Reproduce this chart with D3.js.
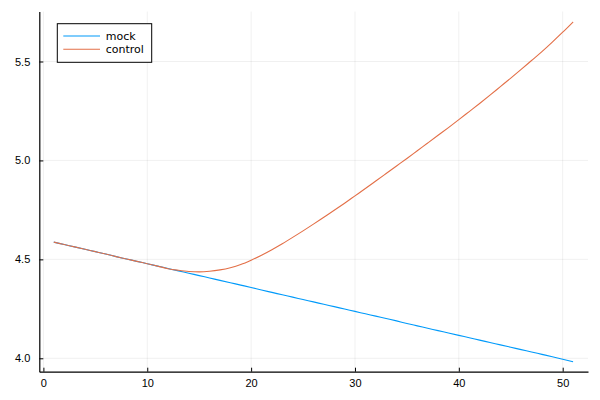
<!DOCTYPE html>
<html>
<head>
<meta charset="utf-8">
<script src="https://cdn.jsdelivr.net/npm/d3@7"></script>
<style>
  html, body { margin: 0; padding: 0; background: #fff; }
  svg { display: block; font-family: "DejaVu Sans", sans-serif; }
</style>
</head>
<body>
<svg id="chart"></svg>
<script>
var width = 600;
var height = 400;

// x positions 1..51
var steps = d3.range(1, 52);

var mockValues = [
  4.587, 4.575, 4.563, 4.551, 4.539, 4.527, 4.514, 4.502, 4.490, 4.478,
  4.466, 4.454, 4.442, 4.430, 4.418, 4.406, 4.394, 4.382, 4.370, 4.358,
  4.345, 4.333, 4.321, 4.309, 4.297, 4.285, 4.273, 4.261, 4.249, 4.237,
  4.225, 4.213, 4.201, 4.189, 4.176, 4.164, 4.152, 4.140, 4.128, 4.116,
  4.104, 4.092, 4.080, 4.068, 4.056, 4.044, 4.032, 4.020, 4.008, 3.995,
  3.983
];

var controlValues = [
  4.587, 4.575, 4.563, 4.551, 4.539, 4.527, 4.514, 4.502, 4.490, 4.478,
  4.466, 4.453, 4.445, 4.439, 4.437, 4.440, 4.447, 4.458, 4.474, 4.496,
  4.521, 4.549, 4.579, 4.611, 4.644, 4.678, 4.713, 4.748, 4.784, 4.821,
  4.858, 4.896, 4.934, 4.972, 5.010, 5.049, 5.088, 5.127, 5.166, 5.206,
  5.247, 5.288, 5.330, 5.373, 5.416, 5.460, 5.505, 5.550, 5.598, 5.648,
  5.700
];

var seriesNames = ["mock", "control"];
var seriesColors = ["#009AFA", "#E36F47"];
var xTicks = [0, 10, 20, 30, 40, 50];
var yTicks = [4.0, 4.5, 5.0, 5.5];

// plot frame
var frame = {left: 39.3, right: 588, top: 11.5, bottom: 371.7};

// scales, calibrated on the tick positions, then stretched to the frame
var x = d3.scaleLinear().domain([0, 50]).range([43.4, 562.7]);
x.domain([x.invert(frame.left), x.invert(frame.right)]).range([frame.left, frame.right]);

var y = d3.scaleLinear().domain([4.0, 5.5]).range([358.3, 61.5]);
y.domain([y.invert(frame.bottom), y.invert(frame.top)]).range([frame.bottom, frame.top]);

var svg = d3.select("#chart")
    .attr("width", width)
    .attr("height", height);

// grid
svg.append("g")
    .selectAll("line")
    .data(xTicks)
    .join("line")
    .attr("x1", d => x(d)).attr("x2", d => x(d))
    .attr("y1", frame.top).attr("y2", frame.bottom)
    .attr("stroke", "#000").attr("stroke-opacity", 0.1).attr("stroke-width", 0.6);

svg.append("g")
    .selectAll("line")
    .data(yTicks)
    .join("line")
    .attr("y1", d => y(d)).attr("y2", d => y(d))
    .attr("x1", frame.left).attr("x2", frame.right)
    .attr("stroke", "#000").attr("stroke-opacity", 0.1).attr("stroke-width", 0.6);

// axes (ticks point inward like Plots.jl)
var xAxis = g => g
    .attr("transform", `translate(0, ${frame.bottom})`)
    .call(d3.axisBottom(x).tickValues(xTicks).tickSizeInner(-4).tickSizeOuter(0).tickPadding(8).tickFormat(d3.format("d")))
    .call(g => g.select(".domain").attr("stroke", "#000").attr("stroke-width", 1.2))
    .call(g => g.selectAll(".tick line").attr("stroke", "#000"))
    .call(g => g.selectAll(".tick text").attr("font-size", 11).attr("fill", "#000"));

var yAxis = g => g
    .attr("transform", `translate(${frame.left}, 0)`)
    .call(d3.axisLeft(y).tickValues(yTicks).tickSizeInner(-4).tickSizeOuter(0).tickPadding(9).tickFormat(d3.format(".1f")))
    .call(g => g.select(".domain").attr("stroke", "#000").attr("stroke-width", 1.2))
    .call(g => g.selectAll(".tick line").attr("stroke", "#000"))
    .call(g => g.selectAll(".tick text").attr("font-size", 11).attr("fill", "#000"));

svg.append("g").call(xAxis);
svg.append("g").call(yAxis);

// lines
var line = d3.line()
    .x((d, i) => x(steps[i]))
    .y(d => y(d))
    .curve(d3.curveMonotoneX);

var allSeries = [mockValues, controlValues];

svg.append("g")
    .attr("fill", "none")
    .attr("stroke-width", 1.1)
    .attr("stroke-linejoin", "round")
    .selectAll("path")
    .data(allSeries)
    .join("path")
    .attr("stroke", (d, i) => seriesColors[i])
    .attr("d", d => line(d));

// legend
var legend = svg.append("g").attr("transform", "translate(57.3, 23.7)");

legend.append("rect")
    .attr("width", 94.4)
    .attr("height", 38.6)
    .attr("fill", "#fff")
    .attr("stroke", "#000")
    .attr("stroke-width", 1);

var items = legend.selectAll("g.item")
    .data(seriesNames)
    .join("g")
    .attr("class", "item")
    .attr("transform", (d, i) => `translate(0, ${12.3 + i * 13.3})`);

items.append("line")
    .attr("x1", 6).attr("x2", 42.7)
    .attr("stroke", (d, i) => seriesColors[i])
    .attr("stroke-width", 1.1);

items.append("text")
    .attr("x", 48.4)
    .attr("dy", "0.35em")
    .attr("font-size", 11)
    .attr("fill", "#000")
    .text(d => d);
</script>
</body>
</html>
